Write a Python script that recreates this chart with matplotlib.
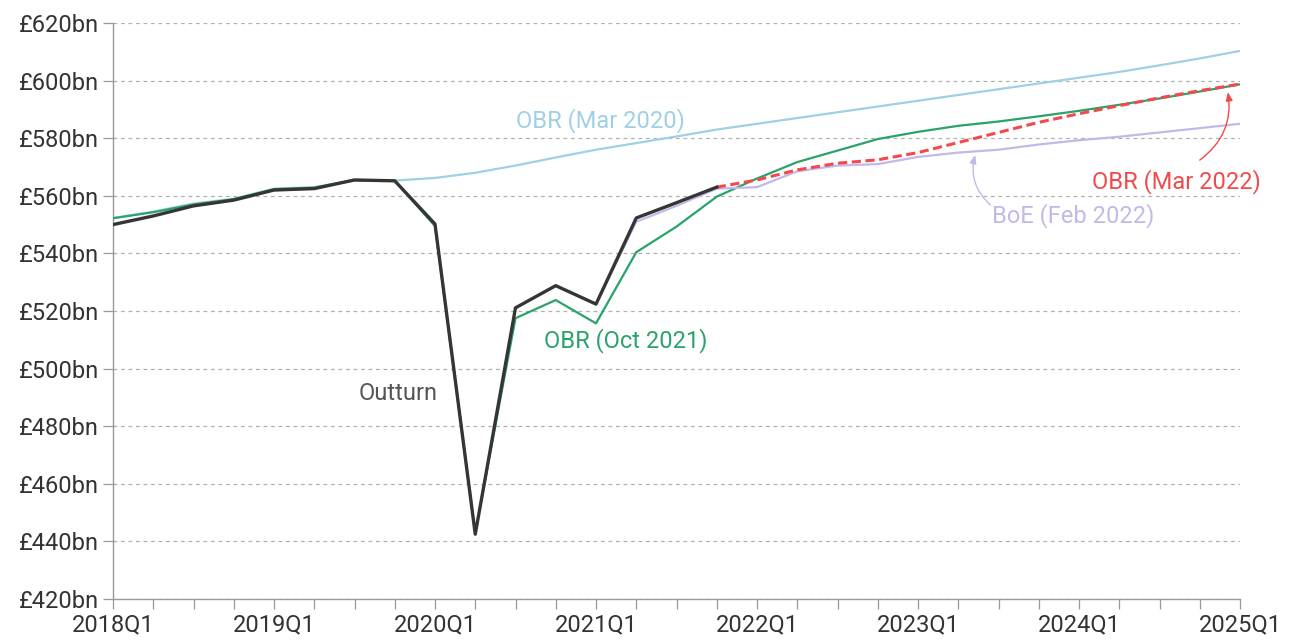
import matplotlib
matplotlib.use("Agg")
import matplotlib.pyplot as plt
import numpy as np

plt.rcParams['font.family'] = ['Roboto', 'DejaVu Sans']
plt.rcParams['font.weight'] = 'normal'

# quarters 2018Q1 .. 2025Q1
quarters = [f"{y}Q{q}" for y in range(2018, 2026) for q in range(1, 5)][:29]

outturn = [550, 553, 556.5, 558.5, 562, 562.5, 565.5, 565.2, 550.2, 442.5,
           521.1, 528.8, 522.4, 552.3, 557.6, 563]

obr_mar2020 = [552.3, 554.5, 557.3, 559, 562.5, 563, 565.5, 565.3, 566.2, 568,
               570.5, 573.3, 576, 578.3, 580.6, 583, 585, 587, 589, 591,
               593, 595, 597, 599, 601, 603, 605.3, 607.7, 610.3]

obr_oct2021 = [552.2, 554.3, 557, 558.8, 562.3, 562.8, 565.4, 565.2, 549.5, 443,
               517.5, 523.8, 515.7, 540.4, 549.3, 559.7, 566, 571.7, 575.7, 579.7,
               582.2, 584.3, 585.8, 587.6, 589.5, 591.6, 593.8, 596.2, 598.7]

boe_start = 12
boe_feb2022 = [522.4, 551, 556.5, 562.5, 563, 568.5, 570.5, 571, 573.5, 575,
               576, 577.8, 579.3, 580.5, 582, 583.5, 585]

obr_start = 15
obr_mar2022 = [563, 565.5, 569, 571.3, 572.5, 575, 578.5, 582, 585.5, 588.5,
               591.3, 594, 596.5, 598.8]

c_blue = '#9fd0e4'
c_green = '#2aa36b'
c_lav = '#c4b8e8'
c_red = '#f04a4c'
c_dark = '#353535'
c_grey = '#999999'

fig = plt.figure(figsize=(12.9, 6.4), dpi=100)
ax = fig.add_axes([113 / 1290, 1 - 599 / 640, 1127 / 1290, 576 / 640])

x = np.arange(len(quarters))
ax.plot(x, obr_mar2020, color=c_blue, lw=1.6, zorder=2)
ax.plot(x, obr_oct2021, color=c_green, lw=1.6, zorder=3)
ax.plot(x[boe_start:], boe_feb2022, color=c_lav, lw=1.6, zorder=3)
ax.plot(x[obr_start:], obr_mar2022, color=c_red, lw=2.2, ls=(0, (3, 1.5)), zorder=4)
ax.plot(x[:len(outturn)], outturn, color=c_dark, lw=2.4, zorder=5)

ax.set_xlim(0, len(quarters) - 1)
ax.set_ylim(420, 620)
ax.set_yticks(np.arange(420, 621, 20))
ax.set_yticklabels([f"£{v}bn" for v in range(420, 621, 20)])
ax.set_xticks(x)
ax.set_xticklabels([q if q.endswith('Q1') else '' for q in quarters])

ax.grid(axis='y', color='#b0b0b0', ls=(0, (3, 3)), lw=0.9)
ax.set_axisbelow(True)
for s in ['top', 'right']:
    ax.spines[s].set_visible(False)
for s in ['left', 'bottom']:
    ax.spines[s].set_color(c_grey)
    ax.spines[s].set_linewidth(1)
ax.tick_params(axis='both', colors=c_grey, length=7, width=0.9,
               labelcolor='#333333', labelsize=17)
ax.tick_params(axis='x', pad=3)
ax.tick_params(axis='y', pad=3)

# series labels
ax.text(12.1, 586, 'OBR (Mar 2020)', color=c_blue, fontsize=17, ha='center', va='center')
ax.text(12.75, 509.6, 'OBR (Oct 2021)', color=c_green, fontsize=17, ha='center', va='center')
ax.text(7.08, 491.2, 'Outturn', color='#555555', fontsize=17, ha='center', va='center')
ax.text(26.43, 565.1, 'OBR (Mar 2022)', color=c_red, fontsize=17, ha='center', va='center')
ax.text(23.85, 553, 'BoE (Feb 2022)', color=c_lav, fontsize=17, ha='center', va='center')

ax.annotate('', xy=(21.42, 574.2), xytext=(21.8, 556.8),
            arrowprops=dict(arrowstyle='-|>,head_length=0.5,head_width=0.2', color=c_lav, lw=1,
                            connectionstyle='arc3,rad=-0.3', shrinkA=0, shrinkB=0))
ax.annotate('', xy=(27.7, 596), xytext=(27.0, 572.4),
            arrowprops=dict(arrowstyle='-|>,head_length=0.5,head_width=0.2', color=c_red, lw=1,
                            connectionstyle='arc3,rad=0.3', shrinkA=0, shrinkB=0))

fig.savefig('out.png', dpi=100)
